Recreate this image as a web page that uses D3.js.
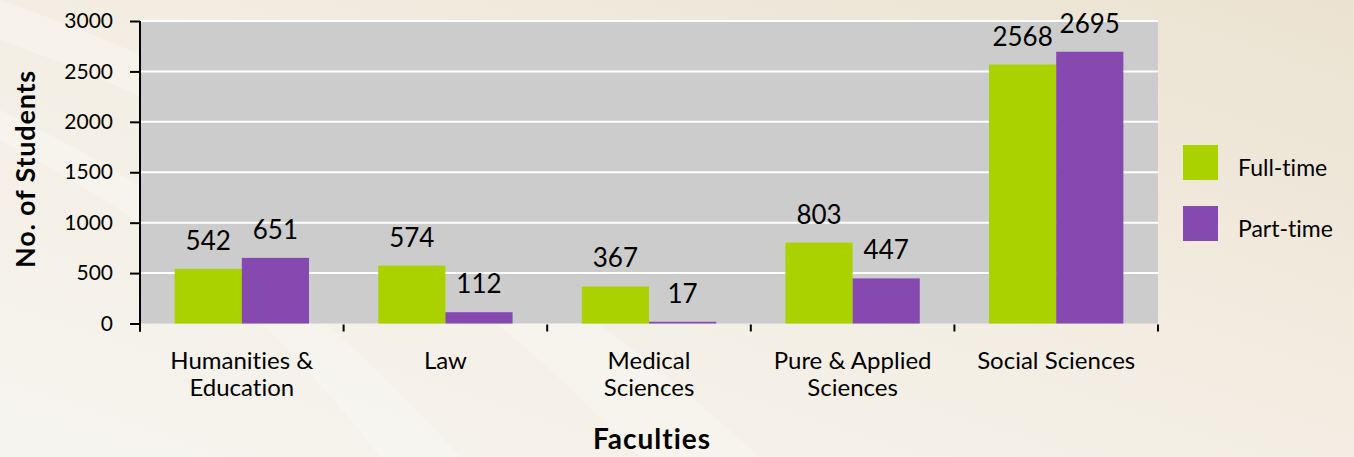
<!DOCTYPE html>
<html>
<head>
<meta charset="utf-8">
<script src="https://cdn.jsdelivr.net/npm/d3@7"></script>
<style>
  html, body { margin: 0; padding: 0; }
  body { width: 1354px; height: 457px; overflow: hidden; }
  text { font-family: Lato, "Open Sans", sans-serif; fill: #000; font-variant-ligatures: none; }
</style>
</head>
<body>
<div id="chart"></div>
<script>
(function () {
    'use strict';
    var width = 1354;
    var height = 457;

    // chart values
    var categories = ["Humanities &\nEducation", "Law", "Medical\nSciences", "Pure & Applied\nSciences", "Social Sciences"];
    var seriesNames = ["Full-time", "Part-time"];
    var fullTime = [542, 574, 367, 803, 2568];
    var partTime = [651, 112, 17, 447, 2695];
    var yTicks = [0, 500, 1000, 1500, 2000, 2500, 3000];
    var colors = ["#aad200", "#8649af"];

    var plot = { left: 140, right: 1158, top: 21, bottom: 323.5 };

    var svg = d3.select('#chart')
        .append('svg')
        .attr('width', width)
        .attr('height', height);

    // background
    var defs = svg.append('defs');
    var bg = defs.append('linearGradient').attr('id', 'bg')
        .attr('x1', '0%').attr('y1', '100%').attr('x2', '100%').attr('y2', '0%');
    bg.append('stop').attr('offset', '0%').attr('stop-color', '#f6f4ef');
    bg.append('stop').attr('offset', '45%').attr('stop-color', '#f4efe5');
    bg.append('stop').attr('offset', '100%').attr('stop-color', '#ebe2d1');
    svg.append('rect').attr('width', width).attr('height', height).attr('fill', 'url(#bg)');
    // faint light streaks
    svg.append('path')
        .attr('d', 'M0,40 C200,110 420,230 640,457 L760,457 C520,240 260,90 0,0 Z')
        .attr('fill', '#ffffff').attr('opacity', 0.25);
    svg.append('path')
        .attr('d', 'M0,140 C150,220 260,300 380,457 L460,457 C330,310 170,190 0,110 Z')
        .attr('fill', '#ffffff').attr('opacity', 0.25);

    var y = d3.scaleLinear().domain([0, 3000]).range([plot.bottom, plot.top]);
    var x0 = d3.scaleBand().domain(categories)
        .range([plot.left, plot.right])
        .paddingInner(0.34).paddingOuter(0.17);
    var x1 = d3.scaleBand().domain(seriesNames).range([0, x0.bandwidth()]);
    var edge = d3.scaleLinear().domain([0, categories.length]).range([plot.left, plot.right]);

    // plot area
    svg.append('rect')
        .attr('x', plot.left).attr('y', plot.top)
        .attr('width', plot.right - plot.left).attr('height', plot.bottom - plot.top)
        .attr('fill', '#cccccc');

    svg.append('g').selectAll('line').data(yTicks.slice(1)).enter()
        .append('line')
        .attr('x1', plot.left).attr('x2', plot.right)
        .attr('y1', function (d) { return y(d); })
        .attr('y2', function (d) { return y(d); })
        .attr('stroke', '#ffffff').attr('stroke-width', 2);

    // bars
    var rows = categories.map(function (c, i) {
        return { cat: c, values: [fullTime[i], partTime[i]] };
    });
    var groups = svg.append('g').selectAll('g').data(rows).enter()
        .append('g')
        .attr('transform', function (d) { return 'translate(' + x0(d.cat) + ',0)'; });
    groups.selectAll('rect')
        .data(function (d) { return d.values.map(function (v, j) { return { s: seriesNames[j], v: v, j: j }; }); })
        .enter().append('rect')
        .attr('x', function (d) { return x1(d.s); })
        .attr('y', function (d) { return y(d.v); })
        .attr('width', x1.bandwidth())
        .attr('height', function (d) { return y(0) - y(d.v); })
        .attr('fill', function (d) { return colors[d.j]; });
    groups.selectAll('text')
        .data(function (d) { return d.values.map(function (v, j) { return { s: seriesNames[j], v: v }; }); })
        .enter().append('text')
        .attr('x', function (d) { return x1(d.s) + x1.bandwidth() / 2; })
        .attr('y', function (d) { return y(d.v) - 19; })
        .attr('text-anchor', 'middle')
        .style('font-size', '26px')
        .text(function (d) { return d.v; });

    // y axis
    var yAxis = svg.append('g')
        .attr('transform', 'translate(' + plot.left + ',0)')
        .call(d3.axisLeft(y).tickValues(yTicks).tickFormat(d3.format('d')).tickSize(10).tickPadding(17));
    yAxis.select('.domain').attr('d', 'M0,' + plot.top + 'V' + (plot.bottom + 8))
        .attr('stroke', '#000').attr('stroke-width', 2);
    yAxis.selectAll('.tick line').attr('stroke', '#000').attr('stroke-width', 2);
    yAxis.selectAll('.tick text')
        .style('font-size', '21px').style('font-family', 'Lato, sans-serif').attr('fill', '#000');

    // x boundary ticks
    svg.append('g').selectAll('line').data(d3.range(categories.length + 1)).enter()
        .append('line')
        .attr('x1', function (d) { return edge(d); })
        .attr('x2', function (d) { return edge(d); })
        .attr('y1', plot.bottom + 1).attr('y2', plot.bottom + 8)
        .attr('stroke', '#000').attr('stroke-width', 2);

    // category labels
    var catLabels = svg.append('g').selectAll('text').data(categories).enter()
        .append('text')
        .attr('text-anchor', 'middle')
        .style('font-size', '24px')
        .attr('transform', function (d) {
            return 'translate(' + (x0(d) + x0.bandwidth() / 2) + ',369)';
        });
    catLabels.selectAll('tspan')
        .data(function (d) { return d.split('\n'); })
        .enter().append('tspan')
        .attr('x', 0)
        .attr('dy', function (d, i) { return i === 0 ? 0 : 27; })
        .text(function (d) { return d; });

    // axis titles
    svg.append('text')
        .attr('transform', 'translate(' + 35 + ',' + 169 + ') rotate(-90)')
        .attr('text-anchor', 'middle')
        .style('font-size', '27px').style('font-weight', 'bold').style('letter-spacing', '0.8px')
        .text('No. of Students');
    svg.append('text')
        .attr('x', (plot.left + plot.right) / 2 + 3).attr('y', 449)
        .attr('text-anchor', 'middle')
        .style('font-size', '28px').style('font-weight', 'bold').style('letter-spacing', '1px')
        .text('Faculties');

    // legend
    var legend = svg.append('g').selectAll('g').data(seriesNames).enter()
        .append('g')
        .attr('transform', function (d, i) { return 'translate(1183,' + (145 + i * 61) + ')'; });
    legend.append('rect')
        .attr('width', 35).attr('height', 35)
        .attr('fill', function (d, i) { return colors[i]; });
    legend.append('text')
        .attr('x', 55).attr('y', 31)
        .style('font-size', '23px')
        .text(function (d) { return d; });
}());
</script>
</body>
</html>
